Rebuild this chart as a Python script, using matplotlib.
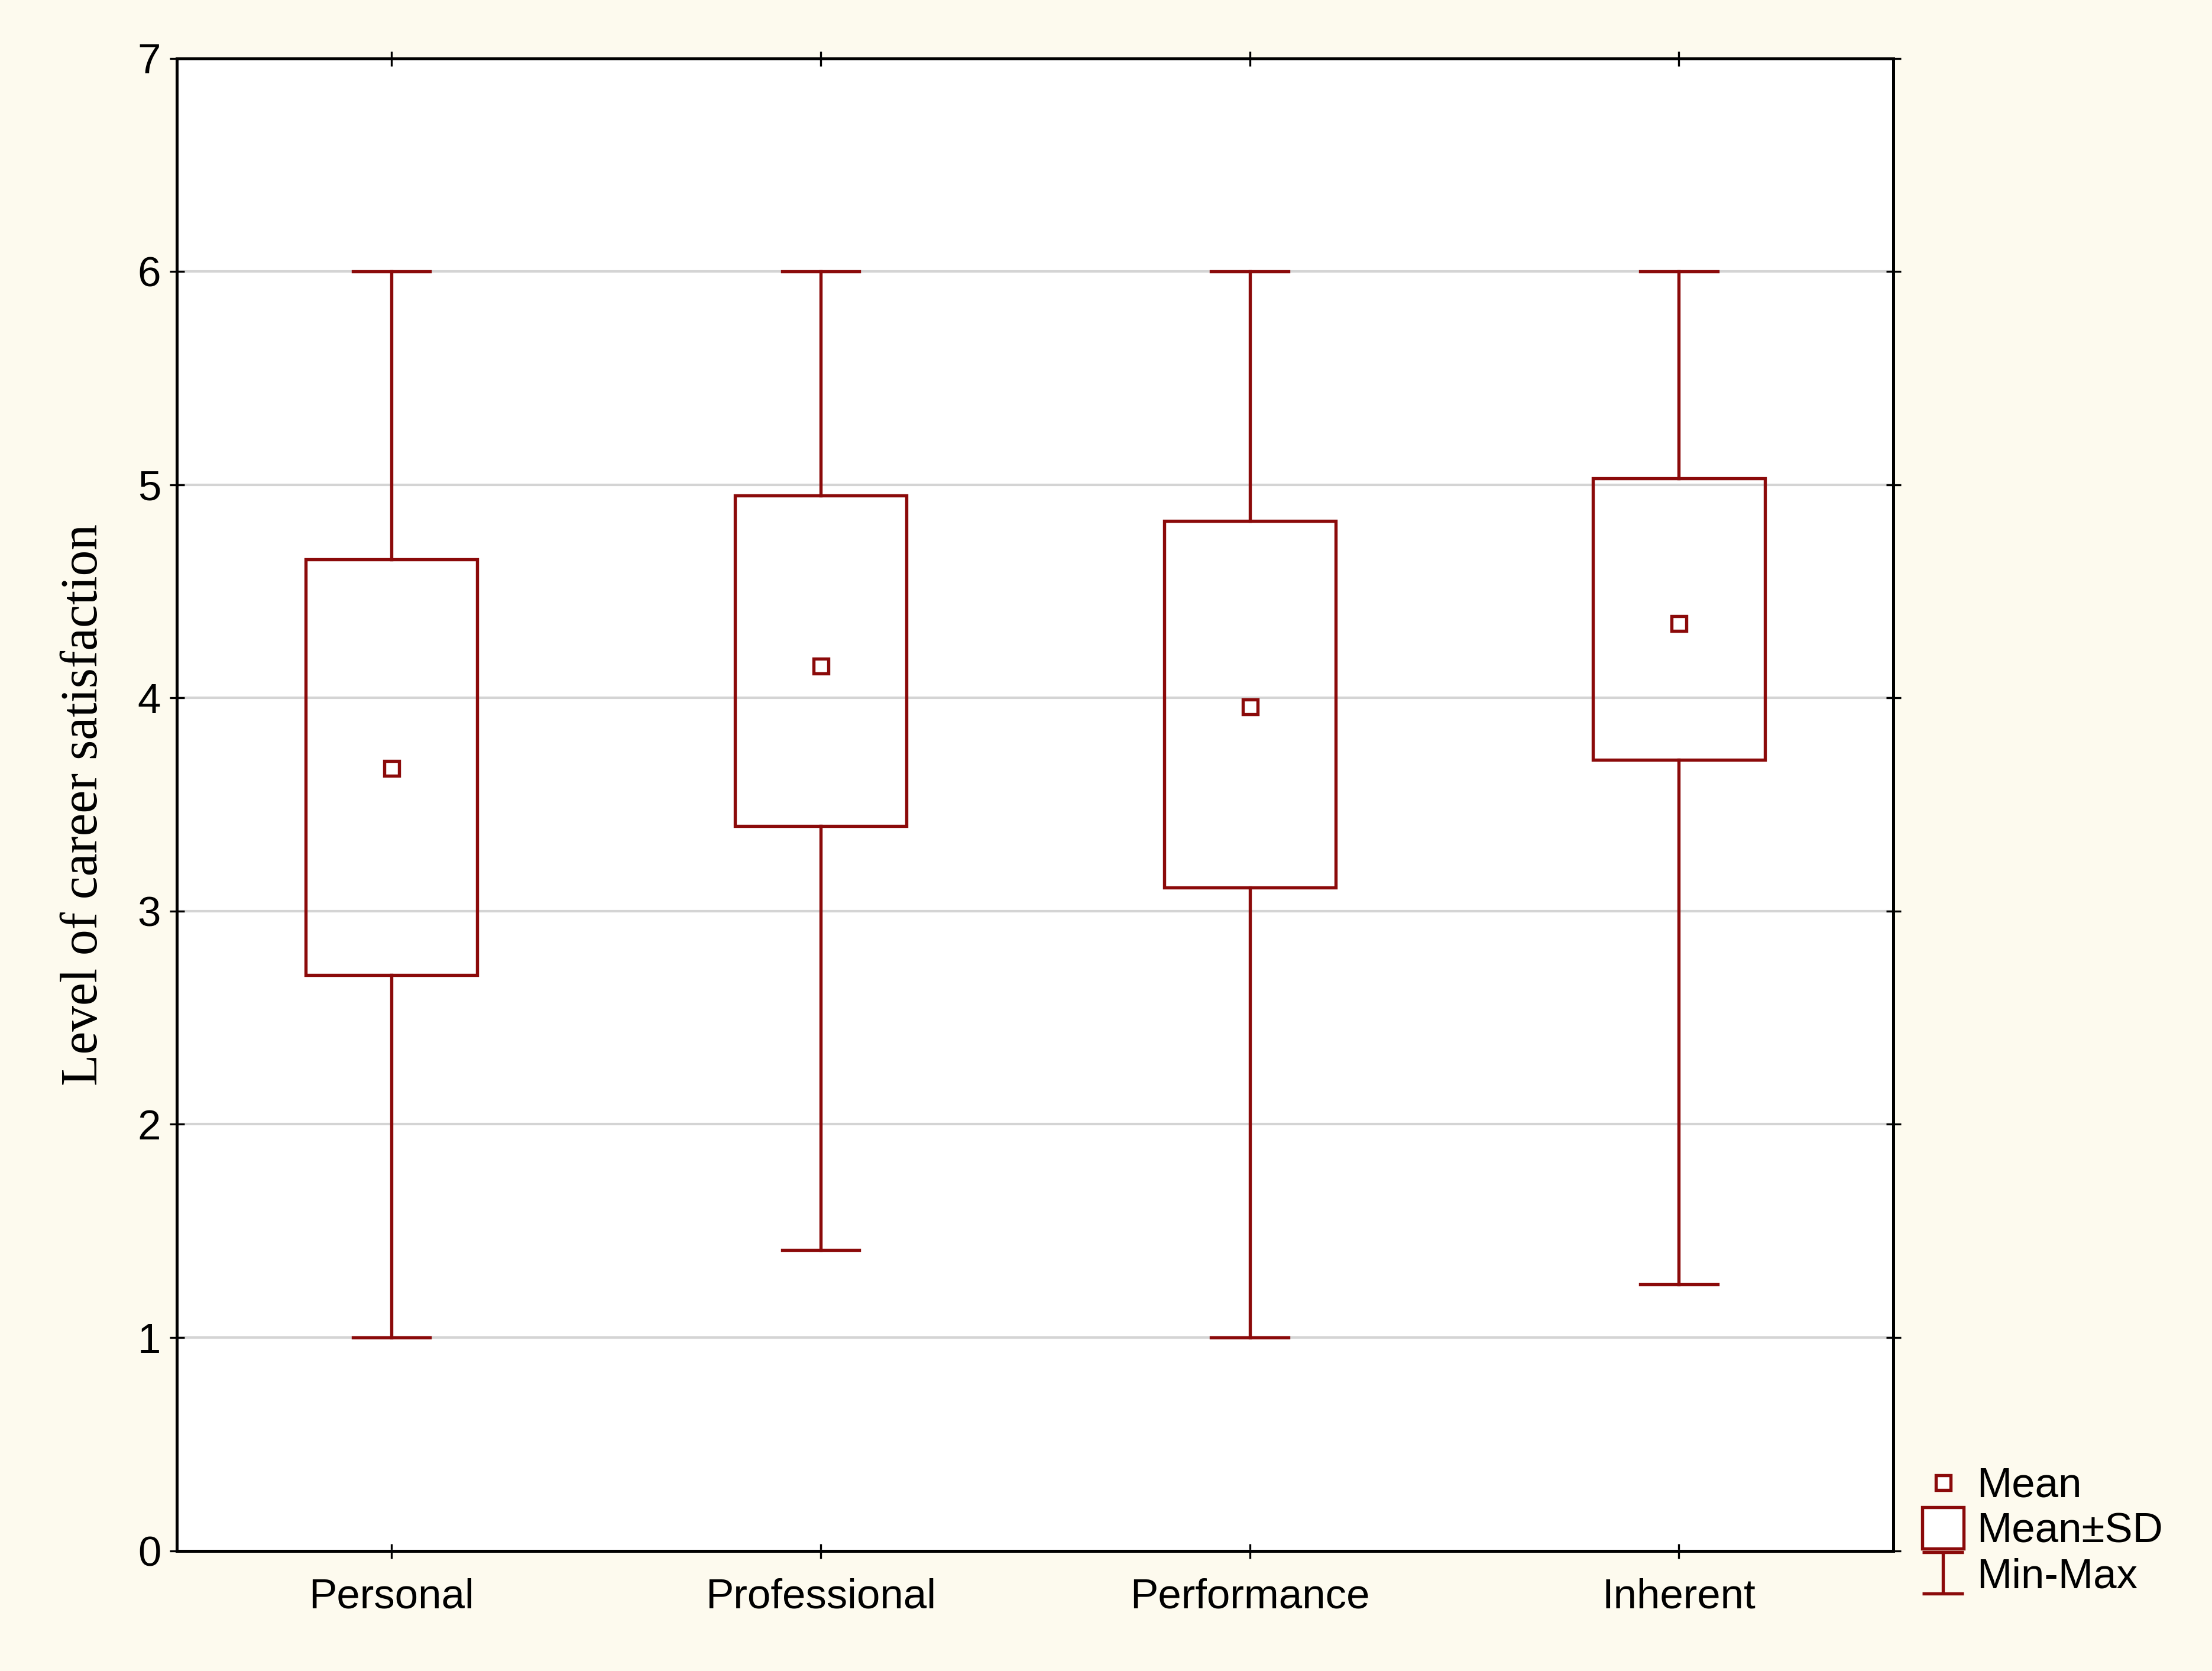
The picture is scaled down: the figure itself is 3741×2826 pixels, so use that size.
import matplotlib.pyplot as plt
from matplotlib.patches import Rectangle
from matplotlib.lines import Line2D
from matplotlib.path import Path

categories = ["Personal", "Professional", "Performance", "Inherent"]
means = [3.67, 4.15, 3.96, 4.35]
sd_low = [2.70, 3.40, 3.11, 3.71]
sd_high = [4.65, 4.95, 4.83, 5.03]
mins = [1.0, 1.41, 1.0, 1.25]
maxs = [6.0, 6.0, 6.0, 6.0]

red = "#8b0a0a"
plt.rcParams["font.family"] = ["Liberation Sans", "DejaVu Sans"]

fig = plt.figure(figsize=(12.47, 9.42), dpi=300, facecolor="#fdfaee")
ax = fig.add_axes([0.080, 0.072, 0.776, 0.893])
ax.set_facecolor("white")

x = list(range(len(categories)))
half = 0.2
cap = 0.09
for i in x:
    ax.add_patch(Rectangle((i - half, sd_low[i]), 2 * half, sd_high[i] - sd_low[i],
                           fill=False, edgecolor=red, lw=1.3, zorder=3))
    ax.plot([i, i], [mins[i], sd_low[i]], color=red, lw=1.3, zorder=3)
    ax.plot([i, i], [sd_high[i], maxs[i]], color=red, lw=1.3, zorder=3)
    ax.plot([i - cap, i + cap], [mins[i], mins[i]], color=red, lw=1.3, zorder=3)
    ax.plot([i - cap, i + cap], [maxs[i], maxs[i]], color=red, lw=1.3, zorder=3)
ax.plot(x, means, ls="none", marker="s", ms=6, mfc="white", mec=red, mew=1.3, zorder=4)

ax.set_xlim(-0.5, 3.5)
ax.set_ylim(0, 7)
ax.set_yticks(range(8))
ax.set_xticks(x)
ax.set_xticklabels(categories, fontsize=17)
ax.tick_params(axis="y", labelsize=17, direction="inout", right=True, length=6)
ax.tick_params(axis="x", direction="inout", top=True, length=6, pad=8)
ax.yaxis.grid(True, color="#d4d4d4", lw=1)
ax.set_axisbelow(True)
for s in ax.spines.values():
    s.set_linewidth(1.2)
ax.set_ylabel("Level of career satisfaction", fontsize=21,
              family=["Liberation Serif", "DejaVu Serif"], labelpad=12)

ibeam = Path([(-0.5, 0.5), (0.5, 0.5), (0, 0.5), (0, -0.5), (-0.5, -0.5), (0.5, -0.5)],
             [Path.MOVETO, Path.LINETO, Path.MOVETO, Path.LINETO, Path.MOVETO, Path.LINETO])
h_mean = Line2D([], [], ls="none", marker="s", ms=6, mfc="white", mec=red, mew=1.3)
h_sd = Line2D([], [], ls="none", marker="s", ms=17, mfc="white", mec=red, mew=1.3)
h_mm = Line2D([], [], ls="none", marker=ibeam, ms=17, mfc="none", mec=red, mew=1.3)
fig.legend([h_mean, h_sd, h_mm], ["Mean", "Mean±SD", "Min-Max"],
           loc="lower left", bbox_to_anchor=(0.852, 0.022), frameon=False,
           fontsize=17, handlelength=1.0, handletextpad=0.3, labelspacing=0.15)

fig.savefig("out.png", dpi=300, facecolor=fig.get_facecolor())
